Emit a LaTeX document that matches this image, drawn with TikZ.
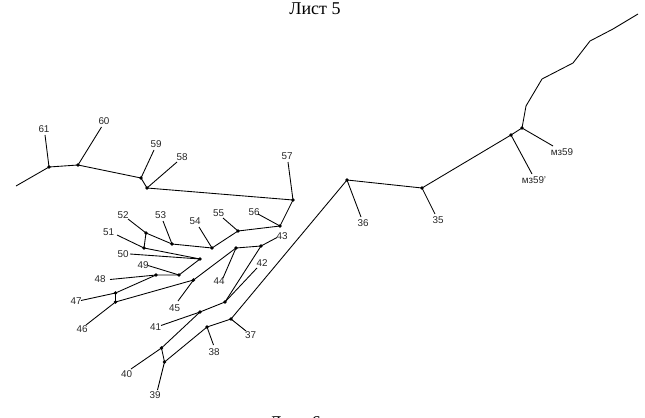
\documentclass[tikz,border=0pt]{standalone}
\usepackage{fontspec}
\setmainfont{Liberation Serif}
\setsansfont{Liberation Sans}
\tikzset{
	junct/.style={circle, fill=black, inner sep=0pt, minimum size=2.8pt},
	num/.style={font=\sffamily\fontsize{7.4}{9}\selectfont, text=black!85, inner sep=0pt},
	title/.style={font=\fontsize{13.5}{15}\selectfont, inner sep=0pt, anchor=base},
	branch/.style={line width=0.65pt, line join=round}
}
\begin{document}
\begin{tikzpicture}[x=0.75pt, y=-0.75pt]
	\useasboundingbox (0,0) rectangle (645,417);
	\node[title] (sheet5) at (315,15) {Лист 5};
	\node[title] (sheet6) at (295,428) {Лист 6};
	% junctions, line ends and labels
	\foreach \n/\x/\y/\ex/\ey/\lx/\ly/\txt in {
		61/49/167/45/135/44/129/61, 60/78/165/101.5/127/104/121/60,
		59/141/178/154/150/156/144/59, 58/147/188/177/162/182/157/58,
		57/293/200/288/162/287/156/57, 56/280/226/258/214/254/212/56,
		55/238/231/223/218/218.5/213/55, 54/212/248/199/227/195/221/54,
		53/172/244/163/221/160.5/215/53, 52/146/233/128/219/123/215/52,
		51/144/248/117/235/108.5/232/51, 50/200/259/130/254/123/254/50,
		49/179/275/148/265.5/143/265/49, 48/156/275/110/279.5/100/279.5/48,
		47/115.5/293/81/300.5/76/301/47, 46/115.5/302/86/325/82/329/46,
		45/193.5/280/178/301/174.5/308/45, 44/236/248/223/278/219/281/44,
		43/261/246/277/237.5/282/236/43, 42/225/302/257/268/262/263.5/42,
		41/200/312/161/325.5/155.5/327/41, 40/161.5/348/131/369/126.5/374/40,
		39/164.5/362/157.5/390/155/395.5/39, 38/207/327/213.5/345/214/352/38,
		37/231/319/246/331/250.5/335/37, 36/347/180/361/217/363/223/36,
		35/422/188/435/214/438/220/35, a/511/135/532/174/534/180/мз59',
		b/522/128/553/146/562/152/мз59}{
		\node[junct] (j\n) at (\x,\y) {};
		\coordinate (e\n) at (\ex,\ey);
		\node[num] (l\n) at (\lx,\ly) {\txt};
		\draw[branch] (j\n.center) -- (e\n);
	}
	% free ends of the main line
	\coordinate (start) at (16,186);
	\foreach \n/\x/\y in {u1/526/106, u2/542/79, u3/573/63, u4/590/41, u5/613/29, u6/638/14}
		\coordinate (\n) at (\x,\y);
	\draw[branch] (start) -- (j61.center)
		\foreach \n in {60,59,58,57,56,55,54,53,52,51,50,49,48,47,46,45,44,43,42,41,40,39,38,37,36,35,a,b}{ -- (j\n.center)}
		\foreach \n in {u1,u2,u3,u4,u5,u6}{ -- (\n)};
\end{tikzpicture}
\end{document}
